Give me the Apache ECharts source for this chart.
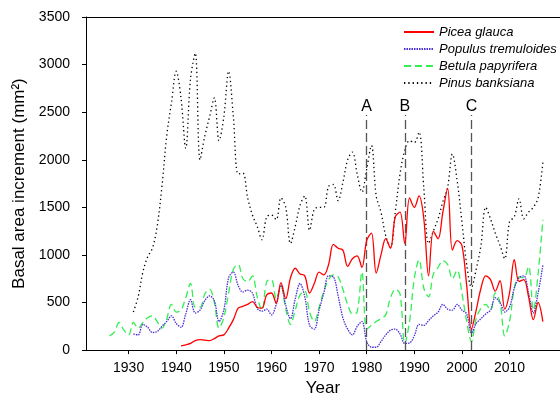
<!DOCTYPE html>
<html>
<head>
<meta charset="utf-8">
<script src="https://cdn.jsdelivr.net/npm/echarts@6/dist/echarts.min.js"></script>
<style>
  html, body { margin: 0; padding: 0; background: #fff; }
  #chart { width: 560px; height: 402px; }
</style>
</head>
<body>
<div id="chart"></div>
<script>
// years covered by the chart
const years = [
  1926, 1927, 1928, 1929, 1930, 1931, 1932, 1933, 1934, 1935,
  1936, 1937, 1938, 1939, 1940, 1941, 1942, 1943, 1944, 1945,
  1946, 1947, 1948, 1949, 1950, 1951, 1952, 1953, 1954, 1955,
  1956, 1957, 1958, 1959, 1960, 1961, 1962, 1963, 1964, 1965,
  1966, 1967, 1968, 1969, 1970, 1971, 1972, 1973, 1974, 1975,
  1976, 1977, 1978, 1979, 1980, 1981, 1982, 1983, 1984, 1985,
  1986, 1987, 1988, 1989, 1990, 1991, 1992, 1993, 1994, 1995,
  1996, 1997, 1998, 1999, 2000, 2001, 2002, 2003, 2004, 2005,
  2006, 2007, 2008, 2009, 2010, 2011, 2012, 2013, 2014, 2015,
  2016, 2017
];

// basal area increment (mm2), one value per year, null = no data
const piceaGlauca = [
  null, null, null, null, null, null, null, null, null, null,
  null, null, null, null, null, 45, 55, 70, 100, 110,
  105, 100, 120, 150, 160, 230, 320, 440, 460, 480,
  510, 450, 440, 580, 600, 490, 710, 540, 760, 860,
  800, 780, 600, 700, 820, 790, 900, 1110, 1070, 1050,
  880, 960, 990, 870, 1150, 1230, 810, 1000, 1170, 1070,
  1400, 1450, 1120, 1600, 1500, 1620, 1380, 780, 1250, 1170,
  1450, 1700, 1050, 1150, 1100, 680, 220, 420, 650, 780,
  740, 620, 730, 430, 600, 950, 720, 740, 560, 320,
  500, 300
];
const populusTremuloides = [
  null, null, null, null, null, 170, 160, 270, 240, 185,
  195, 250, 300, 360, 280, 240, 380, 530, 390, 420,
  520, 570, 520, 300, 420, 760, 820, 680, 610, 630,
  600, 440, 410, 430, 370, 480, 680, 470, 330, 540,
  700, 560, 260, 220, 420, 600, 780, 770, 570, 340,
  220, 160, 250, 300, 90, 30, 30, 90, 160, 210,
  220, 170, 70, 75, 150, 270, 260, 310, 360, 400,
  480, 430, 420, 480, 420, 380, 180, 280, 330, 380,
  420, 550, 500, 400, 450, 650, 760, 780, 600, 390,
  600, 890
];
const betulaPapyrifera = [
  150, 190, 290, 210, 160, 290, 230, 290, 340, 360,
  300, 230, 330, 480, 400, 420, 550, 700, 450, 450,
  590, 640, 500, 230, 340, 600, 850, 900, 750, 720,
  780, 560, 420, 720, 740, 540, 670, 430, 270, 420,
  580, 620, 400, 300, 450, 620, 740, 790, 770, 640,
  480, 380, 400, 820, 220, 260, 300, 330, 370, 550,
  640, 590, 70, 300, 750, 950, 650, 560, 800, 870,
  940, 900, 750, 840, 600, 300, 90, 330, 440, 480,
  420, 600, 500, 150, 300, 650, 770, 760, 880, 420,
  800, 1370
];
const pinusBanksiana = [
  null, null, null, null, null, 400, 560, 820, 980, 1070,
  1300, 1720, 2250, 2600, 2930, 2650, 2120, 2850, 3120, 2000,
  2250, 2450, 2650, 2200, 2450, 2930, 2450, 1850, 1860, 1600,
  1420, 1300, 1160, 1400, 1420, 1370, 1600, 1500, 1120, 1300,
  1520, 1620, 1260, 1480, 1500, 1500, 1720, 1740, 1570, 1760,
  2000, 2080, 1850, 1660, 1900, 2150, 1620, 1450, 1200, 1080,
  1450, 1850, 2100, 2200, 2180, 2290, 1700, 1120, 1250, 1380,
  1560, 1710, 2060, 1780, 1350, 900, 660, 850, 1100, 1500,
  1380, 1230, 1100, 960, 1350, 1400, 1590, 1380, 1450, 1500,
  1600, 1970
];

// marked years (vertical dashed lines)
const refYears = [1980, 1988, 2002];
const refLabels = ['A', 'B', 'C'];
const refTop = 2470;

const xTicks = [1930, 1940, 1950, 1960, 1970, 1980, 1990, 2000, 2010];

const pairs = (vals) => years.map((y, i) => [y, vals[i]]);

const FONT = 'Liberation Sans, Arial, sans-serif';

const chart = echarts.init(document.getElementById('chart'), null, { renderer: 'canvas' });

chart.setOption({
  animation: false,
  backgroundColor: '#fff',
  grid: { left: 86, right: 0, top: 17, bottom: 50 },
  legend: {
    data: ['Picea glauca', 'Populus tremuloides', 'Betula papyrifera', 'Pinus banksiana'],
    orient: 'vertical',
    left: 398,
    top: 20,
    itemWidth: 30,
    itemHeight: 10,
    itemGap: 3,
    itemStyle: { opacity: 0 },
    textStyle: { fontFamily: FONT, fontSize: 13, fontStyle: 'italic', color: '#000', lineHeight: 14 }
  },
  xAxis: [
    {
      type: 'value',
      min: 1921.05,
      max: 2020.6,
      name: 'Year',
      nameLocation: 'middle',
      nameGap: 20,
      nameTextStyle: { fontFamily: FONT, fontSize: 17, color: '#000' },
      axisLine: { lineStyle: { color: '#000', width: 1 } },
      axisTick: { customValues: xTicks, length: 4, lineStyle: { color: '#000' } },
      axisLabel: { customValues: xTicks, formatter: (v) => String(v), fontFamily: FONT, fontSize: 14, color: '#000', margin: 11 },
      splitLine: { show: false }
    },
    {
      // top frame line only
      type: 'value',
      position: 'top',
      min: 1921.05,
      max: 2020.6,
      axisLine: { show: true, lineStyle: { color: '#000', width: 1 } },
      axisTick: { show: false },
      axisLabel: { show: false },
      splitLine: { show: false }
    }
  ],
  yAxis: {
    type: 'value',
    min: 0,
    max: 3500,
    interval: 500,
    name: 'Basal area increment (mm²)',
    nameLocation: 'middle',
    nameGap: 50,
    nameTextStyle: { fontFamily: FONT, fontSize: 17, color: '#000' },
    axisLine: { show: true, lineStyle: { color: '#000', width: 1 } },
    axisTick: { show: true, length: 4, lineStyle: { color: '#000' } },
    axisLabel: { formatter: (v) => String(v), fontFamily: FONT, fontSize: 14, color: '#000', margin: 16 },
    splitLine: { show: false }
  },
  series: [
    {
      name: 'Pinus banksiana',
      type: 'line',
      smooth: 0.35,
      symbol: 'none',
      z: 2,
      data: pairs(pinusBanksiana),
      lineStyle: { color: '#000', width: 1.3, type: [1.3, 3] },
      itemStyle: { color: '#000' },
      markLine: {
        silent: true,
        symbol: 'none',
        lineStyle: { color: '#555', width: 1.3, type: [9, 4] },
        label: { show: true, position: 'end', formatter: '{b}', fontFamily: FONT, fontSize: 16, color: '#000', distance: 0 },
        data: refYears.map((yr, i) => [
          { name: refLabels[i], coord: [yr, 0] },
          { coord: [yr, refTop] }
        ])
      }
    },
    {
      name: 'Betula papyrifera',
      type: 'line',
      smooth: 0.35,
      symbol: 'none',
      z: 3,
      data: pairs(betulaPapyrifera),
      lineStyle: { color: '#33ee55', width: 1.3, type: [7, 4] },
      itemStyle: { color: '#33ee55' }
    },
    {
      name: 'Populus tremuloides',
      type: 'line',
      smooth: 0.35,
      symbol: 'none',
      z: 4,
      data: pairs(populusTremuloides),
      lineStyle: { color: '#4b2fd6', width: 1.3, type: [1.5, 1] },
      itemStyle: { color: '#4b2fd6' }
    },
    {
      name: 'Picea glauca',
      type: 'line',
      smooth: 0.35,
      symbol: 'none',
      z: 5,
      data: pairs(piceaGlauca),
      lineStyle: { color: '#ff0000', width: 1.3 },
      itemStyle: { color: '#ff0000' }
    }
  ]
});
</script>
</body>
</html>
